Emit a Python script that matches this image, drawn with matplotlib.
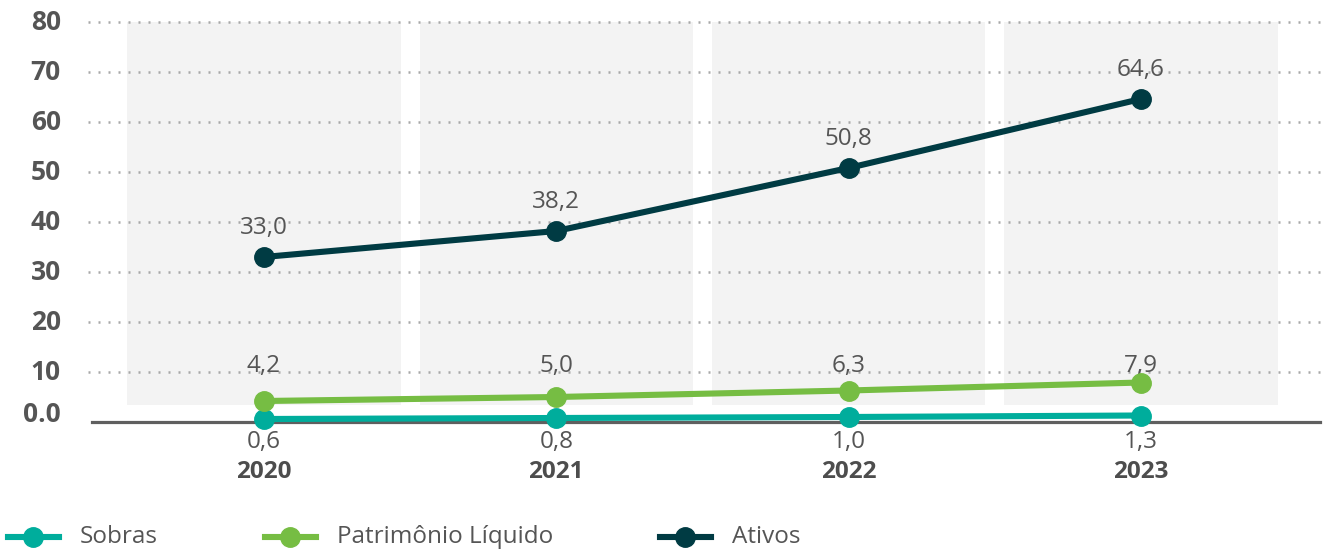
import numpy as np
import matplotlib
matplotlib.use("Agg")
import matplotlib.pyplot as plt
from matplotlib.lines import Line2D

plt.rcParams['font.family'] = ['Open Sans', 'DejaVu Sans']

# dados
anos = ["2020", "2021", "2022", "2023"]
sobras = [0.6, 0.8, 1.0, 1.3]
patrimonio = [4.2, 5.0, 6.3, 7.9]
ativos = [33.0, 38.2, 50.8, 64.6]
sobras_txt = ["0,6", "0,8", "1,0", "1,3"]
patrimonio_txt = ["4,2", "5,0", "6,3", "7,9"]
ativos_txt = ["33,0", "38,2", "50,8", "64,6"]
yticks = [0, 10, 20, 30, 40, 50, 60, 70, 80]
ytick_labels = ["0.0", "10", "20", "30", "40", "50", "60", "70", "80"]
series_nomes = ["Sobras", "Patrimônio Líquido", "Ativos"]

c_sobras = "#00ad9c"
c_pat = "#76bd43"
c_ativos = "#003b43"
c_texto = "#555555"

fig = plt.figure(figsize=(13.23, 5.5), dpi=100)
ax = fig.add_axes([88 / 1323, 128 / 550, 1235 / 1323, 410 / 550])
x = np.arange(len(anos))

ax.set_xlim(-0.602, 3.623)
ax.set_ylim(0, 82)
for s in ax.spines.values():
    s.set_visible(False)
ax.set_xticks([])
ax.set_yticks([])

# fundo cinza por ano
ax.bar(x, 80 - 3.4, bottom=3.4, width=0.935, color="#f3f3f3", zorder=0)

# grade pontilhada
for v in yticks[1:]:
    ax.axhline(v, color="#a8a8a8", lw=1.8, linestyle=(0, (0.8, 3.2)), zorder=1)
ax.axhline(0, xmin=0.003, xmax=0.9976, color="#5f5f5f", lw=2.3, zorder=2, clip_on=False)

# rótulos do eixo y
ytr = ax.get_yaxis_transform()
for v, lab in zip(yticks, ytick_labels):
    yy = v if v > 0 else 1.6
    ax.text(-0.022, yy, lab, transform=ytr, ha="right", va="center",
            fontsize=19, fontweight="bold", color=c_texto)

# linhas
for vals, cor in [(sobras, c_sobras), (patrimonio, c_pat), (ativos, c_ativos)]:
    ax.plot(x, vals, color=cor, lw=4.4, marker="o", markersize=14,
            zorder=5, clip_on=False)

# rótulos de dados
for xi, v, t in zip(x, ativos, ativos_txt):
    ax.annotate(t, (xi, v), xytext=(0, 12), textcoords="offset points",
                ha="center", va="bottom", fontsize=17.5, color=c_texto)
xtr = ax.get_xaxis_transform()
for xi, t in zip(x, patrimonio_txt):
    ax.text(xi, 11.2 / 82, t, transform=xtr, ha="center", va="center",
            fontsize=17.5, color=c_texto)
for xi, t, a in zip(x, sobras_txt, anos):
    ax.text(xi, -4.0 / 82, t, transform=xtr, ha="center", va="center",
            fontsize=17.5, color=c_texto)
    ax.text(xi, -9.9 / 82, a, transform=xtr, ha="center", va="center",
            fontsize=17.5, fontweight="bold", color="#4d4d4d")

# legenda manual
ly = 13 / 550
for nome, cor, x0 in zip(series_nomes, [c_sobras, c_pat, c_ativos], [8, 265, 660]):
    fig.add_artist(Line2D([x0 / 1323, (x0 + 51) / 1323], [ly, ly], color=cor, lw=4.4))
    fig.add_artist(Line2D([(x0 + 25) / 1323], [ly], color=cor, marker="o", markersize=14))
    fig.text((x0 + 72) / 1323, ly, nome, ha="left", va="center",
             fontsize=17.5, color=c_texto)

plt.savefig("out.png", dpi=100)
